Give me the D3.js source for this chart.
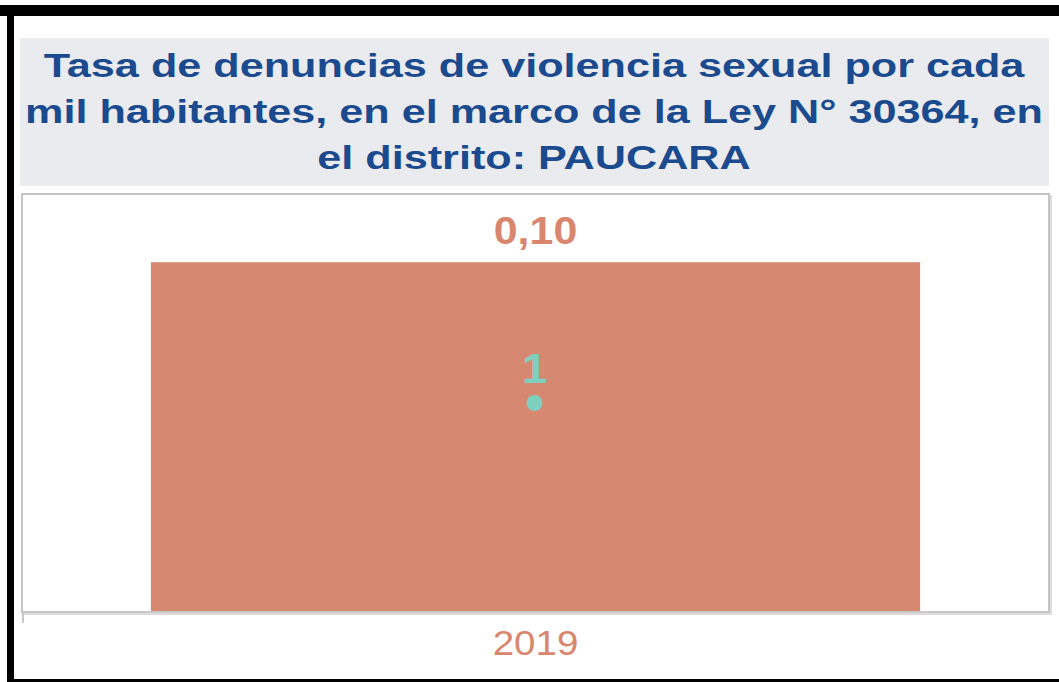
<!DOCTYPE html>
<html>
<head>
<meta charset="utf-8">
<script src="https://cdn.jsdelivr.net/npm/d3@7"></script>
<style>
  html, body { margin: 0; padding: 0; background: #ffffff; }
  svg { display: block; }
</style>
</head>
<body>
<svg id="chart" width="1059" height="682"></svg>
<script>
// ---- data ----
const titleLines = [
  "Tasa de denuncias de violencia sexual por cada",
  "mil habitantes, en el marco de la Ley N° 30364, en",
  "el distrito: PAUCARA"
];
const years = ["2019"];
const rateValues = [0.10];
const countValues = [1];
const rateLabels = ["0,10"];
const countLabels = ["1"];

// ---- layout ----
const W = 1059, H = 682;
const svg = d3.select("#chart");
const sx = 1.1;       // horizontal stretch of the reference labels
const sxTitle = 1.27; // horizontal stretch of the title

// outer black frame
svg.append("rect").attr("x", 0).attr("y", 0).attr("width", W).attr("height", H).attr("fill", "#fff");
svg.append("rect").attr("x", 0).attr("y", 5).attr("width", W).attr("height", 11).attr("fill", "#000");
svg.append("rect").attr("x", 7).attr("y", 5).attr("width", 7).attr("height", H).attr("fill", "#000");
svg.append("rect").attr("x", 7).attr("y", 679).attr("width", W).attr("height", 3).attr("fill", "#000");

// title panel
svg.append("rect").attr("x", 20).attr("y", 38).attr("width", 1029).attr("height", 148).attr("fill", "#eaebef");
const tg = svg.append("g").attr("transform", `translate(534,0) scale(${sxTitle},1)`);
tg.selectAll("text").data(titleLines).join("text")
  .attr("x", 0).attr("y", (d, i) => 77 + i * 46)
  .attr("text-anchor", "middle")
  .attr("font-family", "Liberation Sans, Arial, sans-serif")
  .attr("font-weight", "bold").attr("font-size", 34)
  .attr("fill", "#1b4b8e")
  .text(d => d);

// plot box
const box = { x0: 22, x1: 1049, y0: 194, y1: 612 };
svg.append("rect").attr("x", box.x0 + 2).attr("y", box.y0 + 2)
  .attr("width", box.x1 - box.x0).attr("height", box.y1 - box.y0)
  .attr("fill", "none").attr("stroke", "#dcdcdc").attr("stroke-width", 2);
svg.append("rect").attr("x", box.x0).attr("y", box.y0)
  .attr("width", box.x1 - box.x0).attr("height", box.y1 - box.y0)
  .attr("fill", "#fff").attr("stroke", "#c4c4c4").attr("stroke-width", 2);

const x = d3.scaleBand().domain(years).range([box.x0, box.x1]).padding(0.1435);
const y = d3.scaleLinear().domain([0, 0.1195]).range([box.y1, box.y0]);
const y2 = d3.scaleLinear().domain([0, 2]).range([box.y1, box.y0]);

const data = years.map((yr, i) => ({ yr, rate: rateValues[i], count: countValues[i], rl: rateLabels[i], cl: countLabels[i] }));

// bars
svg.selectAll("rect.bar").data(data).join("rect").attr("class", "bar")
  .attr("x", d => x(d.yr)).attr("width", x.bandwidth())
  .attr("y", d => y(d.rate)).attr("height", d => y(0) - y(d.rate))
  .attr("fill", "#d78870");

// x axis
const xAxis = svg.append("g").attr("transform", `translate(0,${box.y1})`)
  .call(d3.axisBottom(x).tickSize(0).tickPadding(0));
xAxis.select(".domain").remove();
xAxis.selectAll("text").remove();
svg.append("line").attr("x1", box.x0).attr("x2", box.x1).attr("y1", box.y1).attr("y2", box.y1)
  .attr("stroke", "#c8c8c8").attr("stroke-width", 2);
svg.append("line").attr("x1", box.x0 + 1).attr("x2", box.x0 + 1).attr("y1", box.y1).attr("y2", 623)
  .attr("stroke", "#c8c8c8").attr("stroke-width", 2);

// category labels
svg.selectAll("g.xl").data(data).join("g").attr("class", "xl")
  .attr("transform", d => `translate(${x(d.yr) + x.bandwidth() / 2},655) scale(${sx},1)`)
  .append("text").attr("text-anchor", "middle")
  .attr("font-family", "Liberation Sans, Arial, sans-serif")
  .attr("font-size", 35).attr("fill", "#d9866e")
  .text(d => d.yr);

// rate labels
svg.selectAll("g.rl").data(data).join("g").attr("class", "rl")
  .attr("transform", d => `translate(${x(d.yr) + x.bandwidth() / 2},${y(d.rate) - 18}) scale(${sx},1)`)
  .append("text").attr("text-anchor", "middle")
  .attr("font-family", "Liberation Sans, Arial, sans-serif")
  .attr("font-weight", "bold").attr("font-size", 39).attr("fill", "#d9866e")
  .text(d => d.rl);

// count points
svg.selectAll("circle.pt").data(data).join("circle").attr("class", "pt")
  .attr("cx", d => x(d.yr) + x.bandwidth() / 2 - 1).attr("cy", d => y2(d.count))
  .attr("r", 8).attr("fill", "#7fcfbf");
svg.selectAll("g.cl").data(data).join("g").attr("class", "cl")
  .attr("transform", d => `translate(${x(d.yr) + x.bandwidth() / 2 - 1},${y2(d.count) - 20}) scale(${sx},1)`)
  .append("text").attr("text-anchor", "middle")
  .attr("font-family", "Liberation Sans, Arial, sans-serif")
  .attr("font-weight", "bold").attr("font-size", 42).attr("fill", "#7fcfbf")
  .text(d => d.cl);
</script>
</body>
</html>
